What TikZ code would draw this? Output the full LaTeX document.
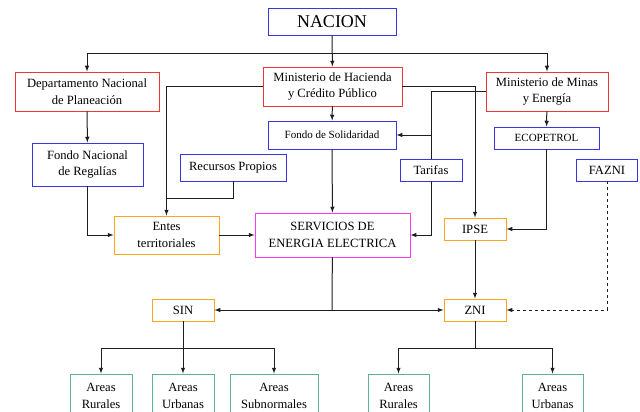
\documentclass[tikz,border=0pt]{standalone}
\usepackage{fontspec}
\setmainfont{Liberation Serif}
\usepackage{xcolor}
\usetikzlibrary{arrows}
\usetikzlibrary{shapes}

\definecolor{boxblue}{RGB}{55,55,225}
\definecolor{boxred}{RGB}{235,55,60}
\definecolor{boxorange}{RGB}{250,165,30}
\definecolor{boxmagenta}{RGB}{245,60,245}
\definecolor{boxgreen}{RGB}{95,180,140}
\definecolor{linegray}{RGB}{30,30,30}

\begin{document}
\begin{tikzpicture}[x=1pt,y=-1pt,>=latex,
  box/.style={draw,line width=0.9pt,rectangle,align=center,inner sep=0pt,
    font=\fontsize{12.6}{16.5}\selectfont},
  bluebox/.style={box,draw=boxblue},
  redbox/.style={box,draw=boxred},
  orangebox/.style={box,draw=boxorange},
  magbox/.style={box,draw=boxmagenta},
  greenbox/.style={box,draw=boxgreen},
  conn/.style={draw=linegray,line width=1pt}]
\clip (0,0) rectangle (640,412);
% top level
\node (nacion) at (332,21.5) [bluebox,minimum width=128,minimum height=27,
  font=\fontsize{18}{20}\selectfont] {NACION};
\node (dnp) at (87,91.5) [redbox,minimum width=144,minimum height=39]
  {Departamento Nacional\\de Planeación};
\node (hacienda) at (332.5,86.5) [redbox,minimum width=139,minimum height=39]
  {Ministerio de Hacienda\\y Crédito Público};
\node (minas) at (547,91.5) [redbox,minimum width=122,minimum height=39]
  {Ministerio de Minas\\y Energía};
% funds and sources
\node (fsol) at (332,135) [bluebox,minimum width=128,minimum height=28,
  font=\fontsize{11}{13}\selectfont] {Fondo de Solidaridad};
\node (ecopetrol) at (546.5,138) [bluebox,minimum width=105,minimum height=22,
  font=\fontsize{11}{13}\selectfont] {ECOPETROL};
\node (regalias) at (87.5,164.5) [bluebox,minimum width=111,minimum height=43]
  {Fondo Nacional\\de Regalías};
\node (recursos) at (233,167.5) [bluebox,minimum width=106,minimum height=27]
  {Recursos Propios};
\node (tarifas) at (431,170) [bluebox,minimum width=62,minimum height=22] {Tarifas};
\node (fazni) at (607,170) [bluebox,minimum width=61,minimum height=22] {FAZNI};
% middle
\node (entes) at (166.5,235) [orangebox,minimum width=105,minimum height=38]
  {Entes\\territoriales};
\node (sel) at (332.5,235) [magbox,minimum width=155,minimum height=44]
  {SERVICIOS DE\\ENERGIA ELECTRICA};
\node (ipse) at (475,229) [orangebox,minimum width=62,minimum height=22] {IPSE};
\node (sin) at (183,310) [orangebox,minimum width=62,minimum height=22] {SIN};
\node (zni) at (475,310) [orangebox,minimum width=62,minimum height=22] {ZNI};
% bottom
\node (sinrur) at (101,396) [greenbox,minimum width=62,minimum height=44] {Areas\\Rurales};
\node (sinurb) at (183,396) [greenbox,minimum width=62,minimum height=44] {Areas\\Urbanas};
\node (sinsub) at (274,396) [greenbox,minimum width=88,minimum height=44] {Areas\\Subnormales};
\node (znirur) at (398.5,396) [greenbox,minimum width=61,minimum height=44] {Areas\\Rurales};
\node (zniurb) at (552.5,396) [greenbox,minimum width=61,minimum height=44] {Areas\\Urbanas};

\coordinate (top) at (332,54);
\coordinate (rp) at (166.5,198);
\coordinate (ts) at (431,135);
\coordinate (sj) at (332,310);
\coordinate (sb) at (183,348);
\coordinate (zb) at (475,348);

\draw[conn,->] (nacion) -- (hacienda);
\draw[conn,->] (top) -| (dnp);
\draw[conn,->] (top) -| (minas);
\draw[conn,->] (dnp) -- (regalias);
\draw[conn,->] (regalias) |- (entes);
\draw[conn,->] (hacienda) -| (entes);
\draw[conn] (recursos) |- (rp);
\draw[conn,->] (entes) -- (sel);
\draw[conn,->] (hacienda) -- (fsol);
\draw[conn,->] (fsol) -- (sel);
\draw[conn,->] (hacienda) -| (ipse);
\draw[conn] (minas) -| (tarifas);
\draw[conn,->] (ts) -- (fsol);
\draw[conn,->] (tarifas) |- (sel);
\draw[conn,->] (minas) -- (ecopetrol);
\draw[conn,->] (ecopetrol) |- (ipse);
\draw[conn,->,dashed] (fazni) |- (zni);
\draw[conn,->] (ipse) -- (zni);
\draw[conn] (sel) -- (sj);
\draw[conn,->] (sj) -- (sin);
\draw[conn,->] (sj) -- (zni);
\draw[conn] (sin) -- (sb);
\draw[conn,->] (sb) -| (sinrur);
\draw[conn,->] (sb) -- (sinurb);
\draw[conn,->] (sb) -| (sinsub);
\draw[conn] (zni) -- (zb);
\draw[conn,->] (zb) -| (znirur);
\draw[conn,->] (zb) -| (zniurb);
\end{tikzpicture}
\end{document}
